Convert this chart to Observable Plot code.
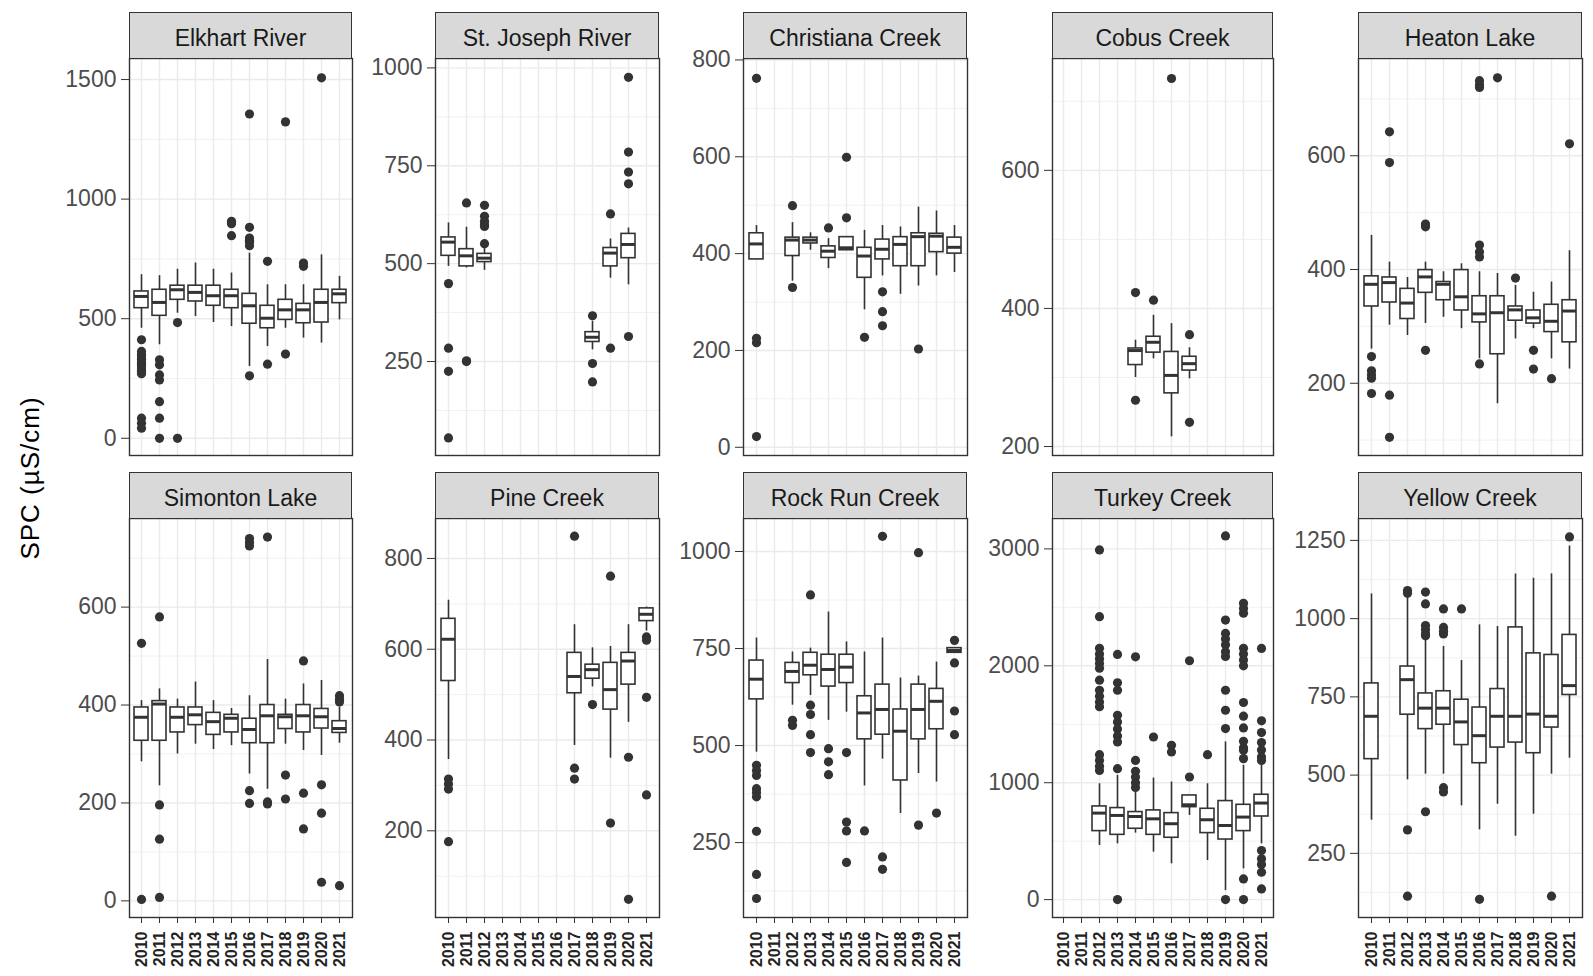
<!DOCTYPE html>
<html><head><meta charset="utf-8">
<script src="https://cdn.jsdelivr.net/npm/d3@7"></script>
<script src="https://cdn.jsdelivr.net/npm/@observablehq/plot@0.6"></script>
<style>
body{margin:0;background:#fff;}
#chart{position:relative;width:1593px;height:976px;background:#fff;font-family:"Liberation Sans",Arial,sans-serif;overflow:hidden}
.strip{position:absolute;box-sizing:border-box;background:#D9D9D9;border:1.4px solid #333;color:#1A1A1A;font-size:23px;display:flex;align-items:center;justify-content:center;white-space:nowrap;padding-top:5px}
.panel{position:absolute}
.panel svg{overflow:visible}
#ytitle{position:absolute;left:-120px;top:463px;width:300px;height:30px;line-height:30px;text-align:center;font-size:26px;letter-spacing:1px;color:#000;transform:rotate(-90deg);white-space:nowrap}
</style></head><body><div id="chart"><div id="ytitle">SPC (µS/cm)</div></div>
<script>
const years = [2010, 2011, 2012, 2013, 2014, 2015, 2016, 2017, 2018, 2019, 2020, 2021];
const sites = ["Elkhart River", "St. Joseph River", "Christiana Creek", "Cobus Creek", "Heaton Lake",
               "Simonton Lake", "Pine Creek", "Rock Run Creek", "Turkey Creek", "Yellow Creek"];

// box rows: [year, lower whisker, Q1, median, Q3, upper whisker]
const elkhartBoxes = [
  [2010, 460, 544, 593, 614, 684], [2011, 391, 512, 568, 621, 680], [2012, 523, 579, 621, 638, 707],
  [2013, 509, 572, 610, 638, 733], [2014, 484, 554, 596, 638, 707], [2015, 467, 544, 596, 621, 691],
  [2016, 300, 479, 554, 604, 774], [2017, 384, 460, 502, 554, 642], [2018, 460, 495, 537, 579, 642],
  [2019, 419, 481, 537, 562, 642], [2020, 398, 484, 568, 621, 767], [2021, 495, 565, 604, 621, 677]];
const elkhartOutliers = [
  [2010, 412], [2010, 363], [2010, 350], [2010, 340], [2010, 330], [2010, 320], [2010, 310], [2010, 300],
  [2010, 290], [2010, 280], [2010, 270], [2010, 84], [2010, 63], [2010, 42],
  [2011, 328], [2011, 307], [2011, 265], [2011, 244], [2011, 153], [2011, 84], [2011, 0],
  [2012, 484], [2012, 0], [2015, 907], [2015, 897], [2015, 847],
  [2016, 1356], [2016, 882], [2016, 837], [2016, 828], [2016, 820], [2016, 805], [2016, 261],
  [2017, 740], [2017, 310], [2018, 1323], [2018, 352], [2019, 733], [2019, 719], [2020, 1507]];

const stJosephBoxes = [
  [2010, 493, 520, 555, 567, 604], [2011, 489, 493, 520, 537, 593], [2012, 483, 504, 514, 525, 553],
  [2018, 280, 300, 312, 325, 353], [2019, 463, 493, 527, 540, 563], [2020, 446, 514, 549, 576, 591]];
const stJosephOutliers = [
  [2010, 449], [2010, 284], [2010, 225], [2010, 55], [2011, 655], [2011, 252], [2011, 250],
  [2012, 649], [2012, 621], [2012, 608], [2012, 600], [2012, 595], [2012, 551],
  [2018, 367], [2018, 245], [2018, 198], [2019, 627], [2019, 284],
  [2020, 976], [2020, 785], [2020, 734], [2020, 704], [2020, 314]];

const christianaBoxes = [
  [2010, 388, 388, 420, 442, 458], [2012, 343, 395, 428, 433, 464], [2013, 407, 421, 428, 433, 443],
  [2014, 369, 391, 405, 415, 431], [2015, 407, 407, 412, 434, 434], [2016, 284, 350, 395, 412, 448],
  [2017, 354, 388, 409, 429, 458], [2018, 316, 374, 419, 434, 455], [2019, 333, 374, 435, 442, 496],
  [2020, 354, 403, 436, 441, 488], [2021, 361, 400, 413, 433, 458]];
const christianaOutliers = [
  [2010, 762], [2010, 225], [2010, 216], [2010, 22], [2012, 499], [2012, 330], [2014, 453],
  [2015, 599], [2015, 474], [2016, 227], [2017, 321], [2017, 280], [2017, 251], [2019, 203]];

const cobusBoxes = [
  [2014, 300, 318, 339, 342, 354], [2015, 327, 336, 351, 359, 390],
  [2016, 214, 277, 303, 337, 378], [2017, 298, 310, 320, 330, 343]];
const cobusOutliers = [[2014, 423], [2014, 267], [2015, 412], [2016, 733], [2017, 362], [2017, 235]];

const heatonBoxes = [
  [2010, 260, 335, 374, 388, 460], [2011, 302, 342, 377, 386, 413], [2012, 284, 313, 341, 366, 386],
  [2013, 305, 359, 387, 399, 413], [2014, 316, 346, 374, 378, 396], [2015, 296, 328, 352, 399, 410],
  [2016, 243, 307, 322, 353, 396], [2017, 164, 251, 324, 353, 393], [2018, 278, 310, 329, 335, 372],
  [2019, 296, 305, 315, 328, 360], [2020, 243, 290, 309, 338, 378], [2021, 225, 272, 327, 346, 433]];
const heatonOutliers = [
  [2010, 247], [2010, 222], [2010, 215], [2010, 209], [2010, 182],
  [2011, 642], [2011, 588], [2011, 179], [2011, 105], [2013, 480], [2013, 475], [2013, 258],
  [2016, 732], [2016, 725], [2016, 720], [2016, 443], [2016, 431], [2016, 422], [2016, 234],
  [2017, 737], [2018, 385], [2019, 258], [2019, 225], [2020, 208], [2021, 621]];

const simontonBoxes = [
  [2010, 284, 327, 375, 395, 409], [2011, 235, 327, 402, 408, 433], [2012, 300, 344, 375, 395, 412],
  [2013, 320, 359, 380, 395, 447], [2014, 309, 339, 366, 384, 409], [2015, 317, 344, 373, 380, 393],
  [2016, 259, 322, 350, 372, 419], [2017, 228, 322, 378, 400, 493], [2018, 320, 351, 376, 380, 412],
  [2019, 307, 344, 378, 400, 443], [2020, 297, 352, 376, 392, 450], [2021, 322, 343, 352, 367, 395]];
const simontonOutliers = [
  [2010, 526], [2010, 3], [2011, 580], [2011, 196], [2011, 126], [2011, 7],
  [2016, 740], [2016, 732], [2016, 725], [2016, 225], [2016, 199], [2017, 743], [2017, 202], [2017, 198],
  [2018, 257], [2018, 208], [2019, 490], [2019, 220], [2019, 147], [2020, 237], [2020, 179], [2020, 38],
  [2021, 419], [2021, 412], [2021, 406], [2021, 31]];

const pineBoxes = [
  [2010, 357, 530, 622, 667, 708], [2017, 388, 503, 540, 592, 654], [2018, 517, 535, 555, 566, 603],
  [2019, 360, 467, 511, 570, 606], [2020, 439, 522, 574, 592, 654], [2021, 640, 662, 677, 690, 693]];
const pineOutliers = [
  [2010, 314], [2010, 303], [2010, 292], [2010, 176], [2017, 849], [2017, 338], [2017, 314],
  [2018, 478], [2019, 761], [2019, 217], [2020, 362], [2020, 49],
  [2021, 627], [2021, 620], [2021, 494], [2021, 279]];

const rockRunBoxes = [
  [2010, 483, 619, 671, 719, 777], [2012, 604, 661, 691, 713, 741], [2013, 629, 681, 707, 739, 751],
  [2014, 565, 652, 696, 734, 844], [2015, 586, 661, 702, 734, 767], [2016, 396, 516, 584, 627, 741],
  [2017, 465, 528, 593, 657, 777], [2018, 325, 410, 537, 593, 674], [2019, 428, 516, 593, 657, 679],
  [2020, 406, 542, 614, 646, 715], [2021, 739, 739, 745, 751, 751]];
const rockRunOutliers = [
  [2010, 449], [2010, 436], [2010, 423], [2010, 389], [2010, 379], [2010, 368], [2010, 279], [2010, 168], [2010, 106],
  [2012, 565], [2012, 552], [2013, 888], [2013, 604], [2013, 580], [2013, 528], [2013, 482],
  [2014, 492], [2014, 458], [2014, 425], [2015, 482], [2015, 303], [2015, 280], [2015, 199],
  [2016, 280], [2017, 1039], [2017, 213], [2017, 181], [2019, 997], [2019, 295], [2020, 326],
  [2021, 771], [2021, 713], [2021, 589], [2021, 528]];

const turkeyBoxes = [
  [2012, 463, 586, 740, 797, 991], [2013, 477, 554, 720, 783, 1063], [2014, 569, 606, 711, 749, 920],
  [2015, 406, 554, 691, 763, 1040], [2016, 306, 529, 649, 740, 1006], [2017, 720, 791, 811, 891, 891],
  [2018, 334, 569, 683, 777, 991], [2019, 77, 514, 634, 843, 1349], [2020, 263, 586, 706, 811, 1149],
  [2021, 477, 711, 826, 897, 1150]];
const turkeyOutliers = [
  [2012, 2991], [2012, 2420], [2012, 2150], [2012, 2100], [2012, 2060], [2012, 2020], [2012, 1980], [2012, 1877],
  [2012, 1790], [2012, 1740], [2012, 1690], [2012, 1650], [2012, 1240], [2012, 1190], [2012, 1140], [2012, 1105],
  [2013, 2097], [2013, 1854], [2013, 1791], [2013, 1577], [2013, 1520], [2013, 1460], [2013, 1400], [2013, 1349],
  [2013, 1120], [2013, 0], [2014, 2077], [2014, 1191], [2014, 1097], [2014, 1049], [2014, 1000], [2014, 960],
  [2015, 1391], [2016, 1320], [2016, 1263], [2017, 2043], [2017, 1049], [2018, 1240],
  [2019, 3111], [2019, 2391], [2019, 2277], [2019, 2230], [2019, 2180], [2019, 2120], [2019, 2080], [2019, 1791],
  [2019, 1620], [2019, 1463], [2019, 0],
  [2020, 2534], [2020, 2490], [2020, 2450], [2020, 2150], [2020, 2100], [2020, 2050], [2020, 2000], [2020, 1686],
  [2020, 1569], [2020, 1469], [2020, 1354], [2020, 1300], [2020, 1277], [2020, 1206], [2020, 177], [2020, 0],
  [2021, 2149], [2021, 1529], [2021, 1429], [2021, 1343], [2021, 1280], [2021, 1220], [2021, 1191],
  [2021, 420], [2021, 349], [2021, 300], [2021, 234], [2021, 91]];

const yellowBoxes = [
  [2010, 356, 551, 688, 793, 1079], [2012, 485, 693, 805, 847, 1074], [2013, 503, 647, 714, 761, 930],
  [2014, 503, 661, 714, 768, 911], [2015, 402, 596, 670, 741, 866], [2016, 325, 538, 626, 716, 980],
  [2017, 407, 588, 688, 775, 975], [2018, 305, 604, 688, 972, 1143], [2019, 375, 570, 695, 889, 1129],
  [2020, 503, 652, 688, 884, 1143], [2021, 554, 756, 786, 948, 1232]];
const yellowOutliers = [
  [2012, 1090], [2012, 1081], [2012, 325], [2012, 113],
  [2013, 1085], [2013, 1047], [2013, 978], [2013, 965], [2013, 952], [2013, 945], [2013, 383],
  [2014, 1031], [2014, 972], [2014, 960], [2014, 951], [2014, 460], [2014, 446],
  [2015, 1031], [2016, 103], [2020, 113], [2021, 1261]];

const yDomains = [[-72, 1588], [10, 1024], [-17, 803], [187, 762], [73, 771],
                  [-34, 781], [9, 888], [57, 1085], [-153, 3260], [45, 1320]];
const yTicks = [[0, 500, 1000, 1500], [250, 500, 750, 1000], [0, 200, 400, 600, 800], [200, 400, 600], [200, 400, 600],
                [0, 200, 400, 600], [200, 400, 600, 800], [250, 500, 750, 1000], [0, 1000, 2000, 3000], [250, 500, 750, 1000, 1250]];

const allBoxes = [elkhartBoxes, stJosephBoxes, christianaBoxes, cobusBoxes, heatonBoxes,
                  simontonBoxes, pineBoxes, rockRunBoxes, turkeyBoxes, yellowBoxes];
const allOutliers = [elkhartOutliers, stJosephOutliers, christianaOutliers, cobusOutliers, heatonOutliers,
                     simontonOutliers, pineOutliers, rockRunOutliers, turkeyOutliers, yellowOutliers];

// layout (pixels)
const cols = [[129, 352], [435, 659], [743, 967], [1052, 1273], [1358, 1582]];
const rows = [{strip: 12, top: 58, bottom: 455}, {strip: 472, top: 518, bottom: 917}];

const chart = document.getElementById("chart");
const ink = "#333333";

sites.forEach((site, i) => {
  const [L, R] = cols[i % 5];
  const row = rows[Math.floor(i / 5)];
  const bottomRow = i >= 5;
  const mL = 90, mR = 2, mT = 1, mB = bottomRow ? 62 : 2;
  const dom = yDomains[i];
  const ticks = yTicks[i];
  const step = ticks[1] - ticks[0];
  const minor = [ticks[0] - step / 2, ...ticks.map(t => t + step / 2)].filter(v => v > dom[0] && v < dom[1]);
  const bx = allBoxes[i].map(([year, lo, q1, med, q3, hi]) => ({year, lo, q1, med, q3, hi}));
  const ol = allOutliers[i].map(([year, value]) => ({year, value}));

  const marks = [
    Plot.ruleY(minor, {stroke: "#EBEBEB", strokeWidth: 0.7}),
    Plot.ruleY(ticks, {stroke: "#EBEBEB", strokeWidth: 1.4}),
    Plot.ruleX(years, {stroke: "#EBEBEB", strokeWidth: 1.4}),
    Plot.ruleX(bx, {x: "year", y1: "lo", y2: "hi", stroke: ink, strokeWidth: 1.6}),
    Plot.barY(bx, {x: "year", y1: "q1", y2: "q3", fill: "white", stroke: ink, strokeWidth: 1.6}),
    Plot.tickY(bx, {x: "year", y: "med", stroke: ink, strokeWidth: 3}),
    Plot.dot(ol, {x: "year", y: "value", r: 4.6, fill: ink, stroke: "none"}),
    Plot.frame({stroke: ink, strokeWidth: 1.4}),
    Plot.axisY({ticks, tickFormat: d => String(d), tickSize: 8, tickPadding: 5, fontSize: 23,
                stroke: ink, fill: "#4D4D4D", label: null})
  ];
  if (bottomRow) {
    marks.push(Plot.axisX({tickRotate: -90, tickFormat: d => String(d), tickSize: 6, tickPadding: 8,
                           fontSize: 16, fontWeight: "bold", stroke: ink, fill: "#222", label: null}));
  }

  const plot = Plot.plot({
    width: (R - L) + mL + mR,
    height: (row.bottom - row.top) + mT + mB,
    marginLeft: mL, marginRight: mR, marginTop: mT, marginBottom: mB,
    style: {fontFamily: "'Liberation Sans', Arial, sans-serif", fontSize: "23px", background: "transparent", overflow: "visible"},
    x: {type: "band", domain: years, paddingInner: 0.2, paddingOuter: 0.2, ...(bottomRow ? {} : {axis: null})},
    y: {domain: dom},
    marks
  });
  const wrap = document.createElement("div");
  wrap.className = "panel";
  wrap.style.left = (L - mL) + "px";
  wrap.style.top = (row.top - mT) + "px";
  wrap.appendChild(plot);
  chart.appendChild(wrap);

  const strip = document.createElement("div");
  strip.className = "strip";
  strip.style.left = L + "px";
  strip.style.top = row.strip + "px";
  strip.style.width = (R - L) + "px";
  strip.style.height = (row.top - row.strip + 1) + "px";
  strip.textContent = site;
  chart.appendChild(strip);
});
</script></body></html>
